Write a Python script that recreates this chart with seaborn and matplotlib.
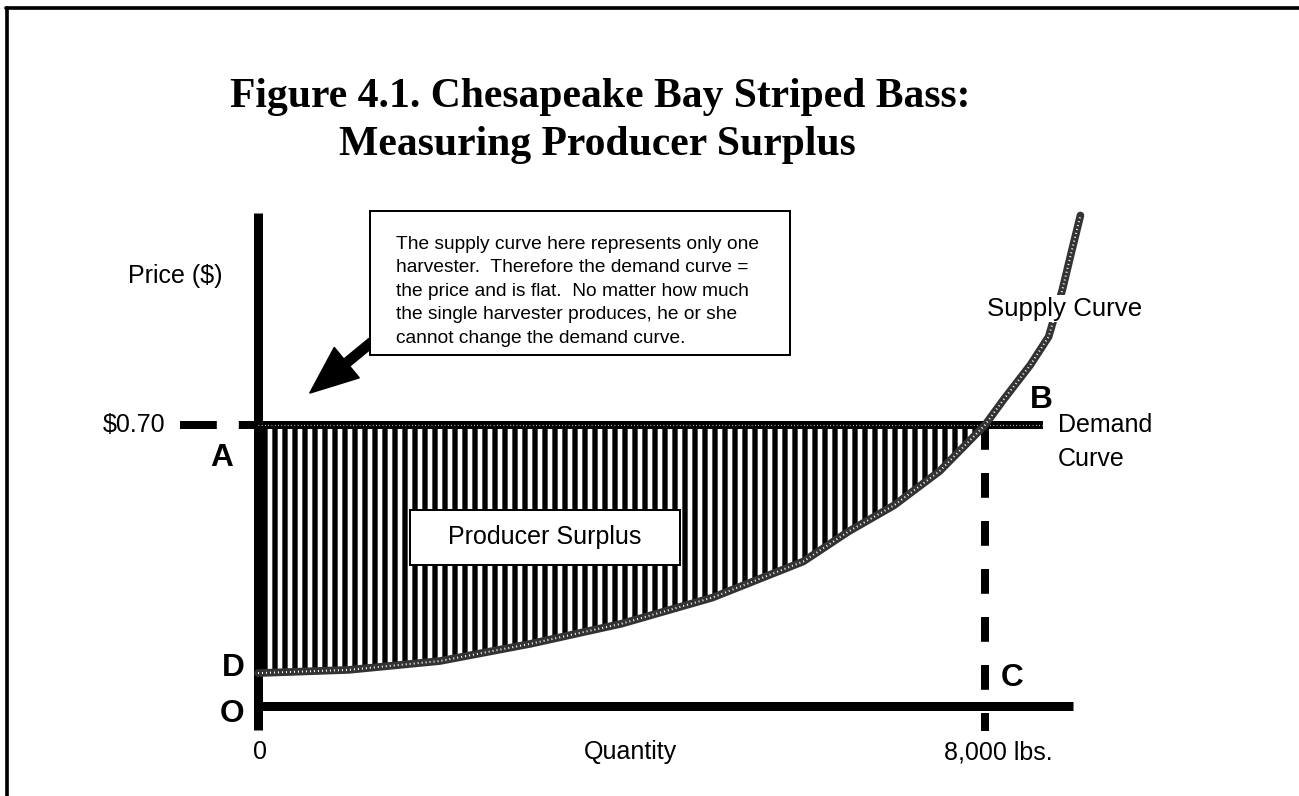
"""Figure 4.1: producer surplus for one Chesapeake Bay striped bass harvester."""

import matplotlib
matplotlib.use("Agg")
import matplotlib.pyplot as plt
import numpy as np
import seaborn as sns
from matplotlib.lines import Line2D
from matplotlib.patches import Rectangle

# data (quantity in lbs, price in $/lb)
supply_qty = [0, 1000, 2000, 3000, 4000, 5000, 6000, 6500, 7000, 7500, 8000, 8200,
              8500, 8700, 8850, 8950, 9050]
supply_price = [0.082, 0.090, 0.112, 0.155, 0.205, 0.270, 0.360, 0.435, 0.500, 0.585,
                0.700, 0.762, 0.850, 0.920, 1.036, 1.130, 1.222]
market_price = 0.70
harvest_qty = 8000
demand_end_qty = 8640
x_tick_labels = ["0", "Quantity", "8,000 lbs."]

sns.set_theme(style="white")
plt.rcParams["font.family"] = ["Liberation Sans", "DejaVu Sans"]
plt.rcParams["text.color"] = "black"
plt.rcParams["hatch.linewidth"] = 3.2

DPI = 120
fig = plt.figure(figsize=(1299 / DPI, 796 / DPI), dpi=DPI)
ax = fig.add_axes([0, 0, 1, 1])
ax.set_xlim(-2839, 11455)
ax.set_ylim(-0.2242, 1.7588)
ax.axis("off")

q = np.array(supply_qty)
p = np.array(supply_price)
inside = q <= harvest_qty

# producer surplus: area between the price line and the supply curve
ax.fill_between(q[inside], p[inside], market_price, facecolor="white",
                edgecolor="black", hatch="||", linewidth=0, zorder=2)

# axes drawn as heavy black lines
ax.plot([0, 0], [-0.060, 1.228], color="black", lw=5.4, solid_capstyle="butt", zorder=4)
ax.plot([0, 8968], [0, 0], color="black", lw=5.4, solid_capstyle="butt", zorder=4)

# demand curve (flat at the market price) with a stippled look
ax.plot([0, demand_end_qty], [market_price] * 2, color="black", lw=4.8,
        solid_capstyle="butt", zorder=5)
ax.plot([0, demand_end_qty], [market_price] * 2, color="white", lw=0.7,
        linestyle=(0, (0.6, 2.2)), zorder=5)
ax.plot([-858, 0], [market_price] * 2, color="black", lw=4.8,
        linestyle=(0, (4.6, 2.75)), zorder=4)
ax.plot([harvest_qty] * 2, [market_price, -0.062], color="black", lw=4.8,
        linestyle=(0, (3.1, 2.9)), zorder=4)

# supply curve
sns.lineplot(x=supply_qty, y=supply_price, ax=ax, color="#333333", lw=4.6,
             sort=False, estimator=None, zorder=6)
sns.lineplot(x=supply_qty, y=supply_price, ax=ax, color="white", lw=1.2,
             linestyle=(0, (0.5, 1.5)), sort=False, estimator=None, zorder=6)

# title
title_kw = dict(family=["Liberation Serif", "DejaVu Serif"], fontweight="bold",
                fontsize=25, ha="center", va="baseline", color="black")
fig.text(0.4619, 0.8656, "Figure 4.1. Chesapeake Bay Striped Bass:", **title_kw)
fig.text(0.4596, 0.8053, "Measuring Producer Surplus", **title_kw)

# frame (top and left only)
fig.add_artist(Line2D([0.0048, 1.0], [0.9900, 0.9900], color="black", lw=2.2,
                      transform=fig.transFigure))
fig.add_artist(Line2D([0.0054, 0.0054], [0.0, 0.9900], color="black", lw=2.2,
                      transform=fig.transFigure))

# labels
label_kw = dict(fontsize=15, color="black")
ax.text(-913, 1.071, "Price ($)", ha="center", va="center", **label_kw)
ax.text(-1023, market_price, "$0.70", ha="right", va="center", **label_kw)
ax.text(22, -0.115, x_tick_labels[0], ha="center", va="center", **label_kw)
ax.text(4094, -0.115, x_tick_labels[1], ha="center", va="center", **label_kw)
ax.text(8143, -0.115, x_tick_labels[2], ha="center", va="center", **label_kw)
ax.text(8880, 0.990, "Supply Curve", ha="center", va="center", zorder=7,
        bbox=dict(facecolor="white", edgecolor="none", pad=1),
        fontsize=15.5, color="black")
ax.text(8803, 0.700, "Demand", ha="left", va="center", **label_kw)
ax.text(8803, 0.615, "Curve", ha="left", va="center", **label_kw)

point_kw = dict(fontsize=19, fontweight="bold", ha="center", va="center", color="black")
ax.text(-396, 0.618, "A", **point_kw)
ax.text(8616, 0.762, "B", **point_kw)
ax.text(8297, 0.070, "C", **point_kw)
ax.text(-275, 0.095, "D", **point_kw)
ax.text(-286, -0.020, "O", **point_kw)

# "Producer Surplus" label box
ax.add_patch(Rectangle((1673, 0.351), 2971, 0.137, facecolor="white",
                       edgecolor="black", lw=1.2, zorder=7))
ax.text(3158, 0.421, "Producer Surplus", ha="center", va="center", zorder=8, **label_kw)

# note box and its arrow
ax.annotate("", xy=(572, 0.780), xytext=(1254, 0.907),
            arrowprops=dict(arrowstyle="simple,head_length=0.95,head_width=0.78,tail_width=0.18",
                            color="black", mutation_scale=30, shrinkA=0, shrinkB=0),
            zorder=6)
ax.add_patch(Rectangle((1232, 0.874), 4622, 0.359, facecolor="white",
                       edgecolor="black", lw=1.2, zorder=7))
note = ("The supply curve here represents only one\n"
        "harvester.  Therefore the demand curve =\n"
        "the price and is flat.  No matter how much\n"
        "the single harvester produces, he or she\n"
        "cannot change the demand curve.")
ax.text(1519, 1.171, note, ha="left", va="top", fontsize=11.5, linespacing=1.5,
        zorder=8, color="black")

fig.savefig("out.png", dpi=DPI)
plt.close(fig)
